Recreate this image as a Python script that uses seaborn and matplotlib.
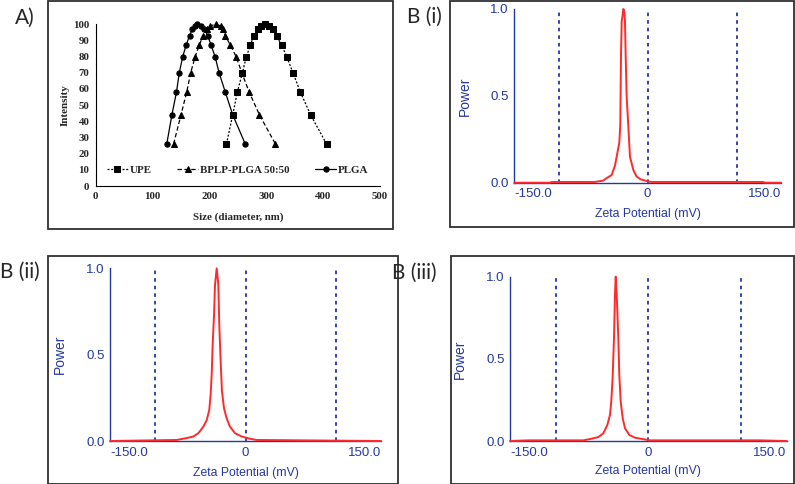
import numpy as np
import pandas as pd
import matplotlib
matplotlib.use("Agg")
import matplotlib.pyplot as plt
from matplotlib.patches import Rectangle
import seaborn as sns

# ---- panel A: DLS size distribution ----
intensity = [26, 44, 58, 70, 80, 87, 93, 97, 99, 100, 99, 97, 93, 87, 80, 70, 58, 44, 26]
upe_size = [230, 241, 249, 258, 265, 272, 278, 285, 291, 298, 304, 311, 318, 327, 336, 347, 360, 378, 406]
bplp_size = [137, 150, 160, 167, 175, 182, 189, 195, 201, 211, 220, 224, 228, 237, 247, 257, 270, 288, 316]
plga_size = [125, 134, 142, 147, 153, 159, 165, 170, 174, 179, 185, 191, 197, 203, 210, 217, 228, 241, 263]

# ---- panels B: zeta potential ----
zeta_i = [-150, -110, -108, -60, -55, -50, -46, -40.5, -36.7, -34.1, -31.9, -30.8, -30.0, -29.2, -28.2,
          -27.4, -26.3, -25.5, -24.7, -23.6, -21.8, -19.9, -16.1, -12.4, -8, -4.9, 2.6, 6, 130, 132, 150]
power_i = [0, 0, 0.004, 0.004, 0.008, 0.012, 0.027, 0.044, 0.10, 0.17, 0.23, 0.33, 0.725, 0.93, 0.96,
           1.0, 0.99, 0.93, 0.725, 0.495, 0.33, 0.15, 0.073, 0.035, 0.02, 0.015, 0.005, 0.004, 0.004, 0, 0]

zeta_ii = [-150, -76.2, -65.1, -57.8, -52.2, -46.7, -43.0, -40.1, -38.5, -37.4, -36.3, -34.9, -33.8,
           -31.9, -30.1, -29.0, -27.5, -26.1, -23.8, -20.8, -17.2, -11.6, -4.2, 5.0, 12.4, 150]
power_ii = [0, 0.006, 0.017, 0.026, 0.045, 0.083, 0.12, 0.18, 0.276, 0.39, 0.566, 0.72, 0.90,
            1.0, 0.91, 0.67, 0.46, 0.29, 0.19, 0.13, 0.083, 0.045, 0.026, 0.013, 0.006, 0]

zeta_iii = [-150, -130, -70.5, -61.4, -54.2, -48.8, -44.5, -41.6, -40.2, -38.7, -37.2, -36.2, -35.4,
            -34.3, -32.6, -31.5, -30.0, -27.8, -25.3, -20.6, -14.5, -8.3, 1.8, 5, 120, 150]
power_iii = [0, 0.004, 0.004, 0.014, 0.024, 0.047, 0.097, 0.158, 0.24, 0.39, 0.635, 0.89, 1.0,
             0.89, 0.635, 0.40, 0.24, 0.138, 0.077, 0.037, 0.02, 0.014, 0.004, 0.004, 0.004, 0]

guides = [-100, 0, 100]

sns.set_style("white")
plt.rcParams['font.family'] = ['Liberation Sans', 'DejaVu Sans']

fig = plt.figure(figsize=(7.95, 4.84), dpi=100)

BLUE = '#2438a0'
RED = '#ff2a2a'
serif = 'Liberation Serif'


def frame(x0, y0, x1, y1):
    W, H = 795, 484
    fig.add_artist(Rectangle((x0 / W, 1 - y1 / H), (x1 - x0) / W, (y1 - y0) / H,
                             transform=fig.transFigure, fill=False, ec='#303030', lw=1.3))


# panel A
frame(48, 1, 393, 229)
axA = fig.add_axes([95.7 / 795, 1 - 186 / 484, 284.3 / 795, 161.7 / 484])
df = pd.DataFrame({'size': upe_size + bplp_size + plga_size,
                   'intensity': intensity * 3,
                   'sample': ['UPE'] * 19 + ['BPLP-PLGA 50:50'] * 19 + ['PLGA'] * 19})
styles = {'UPE': ('s', (0, (1.6, 1.4))), 'BPLP-PLGA 50:50': ('^', (0, (3.5, 2))), 'PLGA': ('o', '-')}
for name, (mk, ls) in styles.items():
    sub = df[df['sample'] == name]
    sns.lineplot(data=sub, x='size', y='intensity', ax=axA, color='black', marker=mk,
                 markersize=3.8, linestyle=ls, lw=0.9, label=name, clip_on=False,
                 markeredgecolor='black')
axA.set_xlim(0, 500)
axA.set_ylim(0, 100)
axA.set_xticks(range(0, 501, 100))
axA.set_yticks(range(0, 101, 10))
for s in ['top', 'right']:
    axA.spines[s].set_visible(False)
for s in ['left', 'bottom']:
    axA.spines[s].set_color('black')
    axA.spines[s].set_linewidth(0.8)
axA.tick_params(axis='both', direction='out', length=2.5, width=0.8, pad=2, labelsize=7.8, color='black')
for lab in axA.get_xticklabels() + axA.get_yticklabels():
    lab.set_fontfamily(serif)
    lab.set_fontweight('bold')
axA.set_xlabel('Size (diameter, nm)', fontfamily=serif, fontweight='bold', fontsize=7.8)
axA.set_ylabel('Intensity', fontfamily=serif, fontweight='bold', fontsize=8)
axA.xaxis.set_label_coords(0.5, -0.165)
axA.yaxis.set_label_coords(-0.09, 0.5)
axA.legend(loc='center', bbox_to_anchor=(0.5, 0.1), ncol=3, frameon=False,
           prop={'family': serif, 'weight': 'bold', 'size': 7.9},
           handlelength=1.9, handletextpad=0.2, columnspacing=2.3)
fig.text(25 / 795, 1 - 18 / 484, 'A)', fontfamily='Lato', fontsize=15, ha='center', va='center')


def zeta_panel(rect, x, y, lab_y, lab_x):
    ax = fig.add_axes(rect)
    for g in guides:
        ax.plot([g, g], [0, 1], color=BLUE, lw=1.3, ls=(0, (2, 2.2)), zorder=1)
    sns.lineplot(x=x, y=y, ax=ax, color=RED, lw=1.4, zorder=3, clip_on=False)
    ax.set_xlim(-150, 150)
    ax.set_ylim(0, 1.0)
    ax.set_xticks([-150, 0, 150])
    ax.set_xticklabels(['-150.0', '0', '150.0'])
    ax.set_yticks([0, 0.5, 1.0])
    ax.set_yticklabels(['0.0', '0.5', '1.0'])
    xl = ax.get_xticklabels()
    xl[0].set_ha('left')
    xl[2].set_ha('right')
    for s in ['top', 'right']:
        ax.spines[s].set_visible(False)
    for s in ['left', 'bottom']:
        ax.spines[s].set_color(BLUE)
        ax.spines[s].set_linewidth(1.0)
    ax.tick_params(axis='both', direction='out', length=2, width=0.8, pad=2,
                   labelsize=9.5, color=BLUE, labelcolor=BLUE)
    ax.set_xlabel('Zeta Potential (mV)', color=BLUE, fontsize=8.8)
    ax.set_ylabel('Power', color=BLUE, fontsize=10)
    ax.xaxis.set_label_coords(0.5, lab_x)
    ax.yaxis.set_label_coords(lab_y, 0.5)
    return ax


# B (i)
frame(450, 1, 794, 227)
zeta_panel([514.3 / 795, 1 - 182.7 / 484, 266.7 / 795, 173.7 / 484], zeta_i, power_i, -0.159, -0.146)
fig.text(407 / 795, 1 - 17 / 484, 'B (i)', fontfamily='Lato', fontsize=15, ha='left', va='center')

# B (ii)
frame(48, 256, 398, 484)
zeta_panel([110 / 795, 1 - 441 / 484, 271 / 795, 172.7 / 484], zeta_ii, power_ii, -0.159, -0.15)
fig.text(0 / 795, 1 - 272 / 484, 'B (ii)', fontfamily='Lato', fontsize=15, ha='left', va='center')

# B (iii)
frame(451, 256, 794, 484)
zeta_panel([510 / 795, 1 - 441 / 484, 276.7 / 795, 164.3 / 484], zeta_iii, power_iii, -0.155, -0.146)
fig.text(392 / 795, 1 - 273 / 484, 'B (iii)', fontfamily='Lato', fontsize=15, ha='left', va='center')

fig.savefig('out.png', dpi=100)
